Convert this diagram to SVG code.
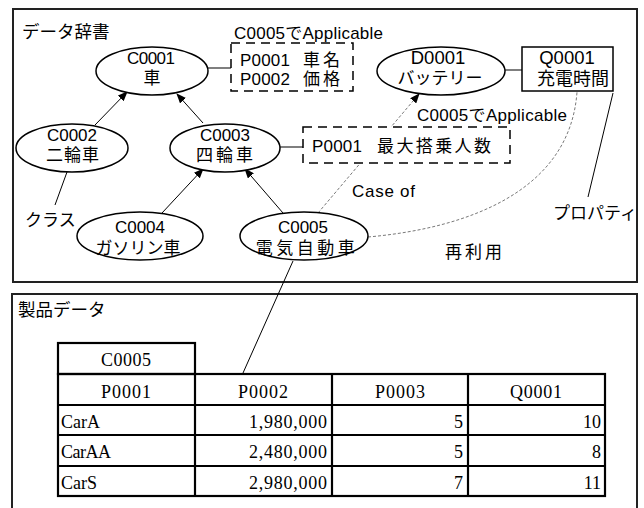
<svg xmlns="http://www.w3.org/2000/svg" width="644" height="508" viewBox="0 0 644 508">
<style>
.jp{font-family:"Liberation Sans","Noto Sans CJK JP",sans-serif;font-size:17px;fill:#000}
.c{text-anchor:middle}
.tb{font-family:"Liberation Serif","Noto Serif CJK JP",serif;font-size:18px;fill:#000}
.r{text-anchor:end}
.node{fill:#fff;stroke:#000;stroke-width:1.5}
.dbox{fill:#fff;stroke:#000;stroke-width:1.5;stroke-dasharray:9 6}
.frame{fill:none;stroke:#222;stroke-width:2}
.ln{stroke:#000;stroke-width:1;fill:none}
.gl{stroke:#555;stroke-width:1.5;fill:none}
.dot{stroke:#555;stroke-width:0.8;stroke-dasharray:3 2;fill:none}
.grid{stroke:#000;stroke-width:2.2;fill:none}
</style>
<defs>
<marker id="ah" markerWidth="10" markerHeight="8" refX="9" refY="4" orient="auto" markerUnits="userSpaceOnUse">
<path d="M0,0 L10,4 L0,8 z" fill="#000"/>
</marker>
</defs>
<g id="frame-dict">
<rect class="frame" x="13" y="9" width="624" height="273"/>
<text class="jp" x="22" y="38" style="font-size:17.5px">データ辞書</text>
</g>
<g id="frame-product">
<path class="frame" d="M12,508 V294 H637 V508"/>
<text class="jp" x="18" y="316" style="font-size:17.5px">製品データ</text>
</g>
<g id="connectors">
<line class="ln" x1="95" y1="125" x2="127" y2="92" marker-end="url(#ah)"/>
<line class="ln" x1="203" y1="123" x2="177" y2="94" marker-end="url(#ah)"/>
<line class="ln" x1="162" y1="213" x2="203" y2="169" marker-end="url(#ah)"/>
<line class="ln" x1="283" y1="213" x2="245" y2="169" marker-end="url(#ah)"/>
<line class="gl" x1="208" y1="68" x2="231" y2="68"/>
<line class="gl" x1="505" y1="70" x2="522" y2="70"/>
<line class="gl" x1="280" y1="147" x2="303" y2="147"/>
<line class="dot" x1="318" y1="213" x2="419" y2="94" marker-end="url(#ah)"/>
<path class="dot" d="M368,237 C470,228 570,190 577,92"/>
<line class="ln" x1="613" y1="93" x2="588" y2="197"/>
<line class="ln" x1="67" y1="172" x2="55" y2="205"/>
<line class="ln" x1="293" y1="261" x2="243" y2="373"/>
</g>
<g id="box-c0001-props">
<text class="jp" x="234" y="39" textLength="149">C0005でApplicable</text>
<rect class="dbox" x="231" y="43" width="122" height="48"/>
<text class="jp" x="240" y="66" textLength="50">P0001</text>
<text class="jp" x="303" y="66" style="letter-spacing:3px">車名</text>
<text class="jp" x="240" y="85" textLength="50">P0002</text>
<text class="jp" x="303" y="85" style="letter-spacing:3px">価格</text>
</g>
<g id="box-c0003-props">
<text class="jp" x="417" y="121" textLength="150">C0005でApplicable</text>
<rect class="dbox" x="303" y="127" width="207" height="36"/>
<text class="jp" x="312" y="152" textLength="50">P0001</text>
<text class="jp" x="377" y="152" style="letter-spacing:2.4px">最大搭乗人数</text>
</g>
<g id="C0001">
<ellipse class="node" cx="152" cy="71" rx="56" ry="24"/>
<text class="jp c" x="151" y="64" textLength="48">C0001</text>
<text class="jp c" x="152" y="84">車</text>
</g>
<g id="D0001">
<ellipse class="node" cx="441" cy="71" rx="64" ry="24"/>
<text class="jp c" x="438" y="64" style="font-size:18.5px">D0001</text>
<text class="jp c" x="440" y="84">バッテリー</text>
</g>
<g id="Q0001">
<rect class="node" x="522" y="47" width="91" height="44"/>
<text class="jp c" x="567" y="64" style="font-size:18.5px">Q0001</text>
<text class="jp c" x="573" y="85" style="font-size:18px">充電時間</text>
</g>
<g id="C0002">
<ellipse class="node" cx="72" cy="148" rx="56" ry="24"/>
<text class="jp c" x="72" y="141" textLength="50">C0002</text>
<text class="jp c" x="73" y="161" style="letter-spacing:1px">二輪車</text>
</g>
<g id="C0003">
<ellipse class="node" cx="225" cy="148" rx="55" ry="24"/>
<text class="jp c" x="225" y="141" textLength="50">C0003</text>
<text class="jp c" x="226" y="161" style="letter-spacing:3px">四輪車</text>
</g>
<g id="C0004">
<ellipse class="node" cx="140" cy="236" rx="63" ry="24"/>
<text class="jp c" x="140" y="233" textLength="50">C0004</text>
<text class="jp c" x="138" y="254">ガソリン車</text>
</g>
<g id="C0005">
<ellipse class="node" cx="304" cy="236" rx="64" ry="24"/>
<text class="jp c" x="303" y="233" textLength="50">C0005</text>
<text class="jp c" x="307" y="254" style="letter-spacing:3.5px">電気自動車</text>
</g>
<g id="labels">
<text class="jp" x="352" y="197" textLength="63">Case of</text>
<text class="jp" x="553" y="219">プロパティ</text>
<text class="jp" x="25" y="226">クラス</text>
<text class="jp" x="445" y="258" style="letter-spacing:3px">再利用</text>
</g>
<g id="table">
<rect class="grid" x="58" y="343" width="137" height="31"/>
<rect class="grid" x="58" y="374" width="547" height="122"/>
<line class="grid" x1="58" y1="405" x2="605" y2="405"/>
<line class="grid" x1="58" y1="435" x2="605" y2="435"/>
<line class="grid" x1="58" y1="466" x2="605" y2="466"/>
<line class="grid" x1="195" y1="374" x2="195" y2="496"/>
<line class="grid" x1="332" y1="374" x2="332" y2="496"/>
<line class="grid" x1="468" y1="374" x2="468" y2="496"/>
<text class="tb c" x="126" y="366" textLength="50">C0005</text>
<text class="tb c" x="126" y="398" textLength="50">P0001</text>
<text class="tb c" x="263" y="398" textLength="50">P0002</text>
<text class="tb c" x="400" y="398" textLength="50">P0003</text>
<text class="tb c" x="536" y="398" textLength="52">Q0001</text>
<text class="tb" x="61" y="428">CarA</text>
<text class="tb r" x="327" y="428" textLength="78">1,980,000</text>
<text class="tb r" x="463" y="428">5</text>
<text class="tb r" x="601" y="428">10</text>
<text class="tb" x="61" y="458" textLength="50">CarAA</text>
<text class="tb r" x="327" y="458" textLength="78">2,480,000</text>
<text class="tb r" x="463" y="458">5</text>
<text class="tb r" x="601" y="458">8</text>
<text class="tb" x="61" y="489">CarS</text>
<text class="tb r" x="327" y="489" textLength="78">2,980,000</text>
<text class="tb r" x="463" y="489">7</text>
<text class="tb r" x="601" y="489">11</text>
</g>
</svg>
